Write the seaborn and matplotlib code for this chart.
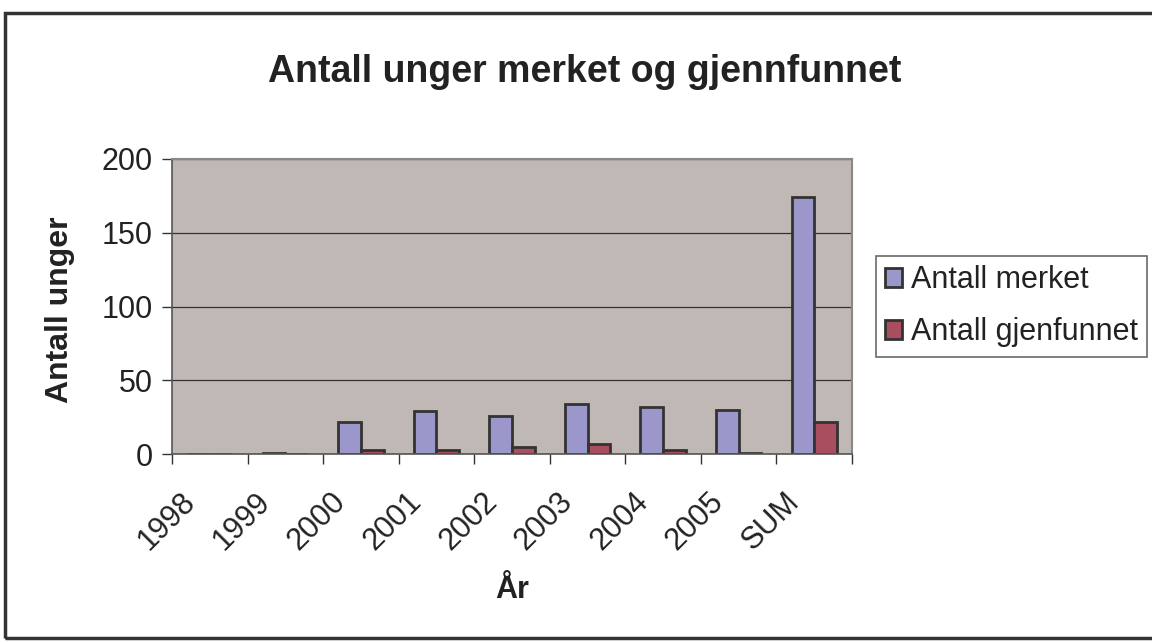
import pandas as pd
import numpy as np
import matplotlib
matplotlib.use('Agg')
import matplotlib.pyplot as plt
import matplotlib.transforms as mtrans
import seaborn as sns
from matplotlib.patches import Rectangle

years = ['1998', '1999', '2000', '2001', '2002', '2003', '2004', '2005', 'SUM']
merket = [0, 1, 22, 29, 26, 34, 32, 30, 174]
gjenfunnet = [0, 0, 3, 3, 5, 7, 3, 1, 22]

df = pd.DataFrame({'År': years * 2,
                   'verdi': merket + gjenfunnet,
                   'serie': ['Antall merket'] * len(years) + ['Antall gjenfunnet'] * len(years)})

sns.set_style('white')
plt.rcParams['font.family'] = ['Arial', 'Liberation Sans', 'DejaVu Sans']
txt = '#222222'

fig = plt.figure(figsize=(11.52, 6.42), dpi=100)
ax = fig.add_axes([172 / 1152, 1 - 454 / 642, 680 / 1152, 295 / 642])

sns.barplot(data=df, x='År', y='verdi', hue='serie', ax=ax,
            palette=['#9C97CB', '#A84E5E'], width=0.6, gap=0,
            edgecolor='#333333', linewidth=2, saturation=1)

ax.set_facecolor('#C0B8B4')
ax.set_ylim(0, 200)
ax.set_xlim(-0.5, len(years) - 0.5)
ax.set_yticks([0, 50, 100, 150, 200])
ax.yaxis.grid(True, color='#333333', linewidth=0.9)
ax.set_axisbelow(True)
for s in ['top', 'right']:
    ax.spines[s].set_color('#888888')
    ax.spines[s].set_linewidth(1.5)
for s in ['left', 'bottom']:
    ax.spines[s].set_color('#555555')
    ax.spines[s].set_linewidth(1.2)

ax.set_xticks(range(len(years)))
ax.set_xticklabels(years, rotation=45, ha='right', rotation_mode='anchor', fontsize=22, color=txt)
ax.tick_params(axis='x', which='major', length=0, pad=14)
shift = mtrans.ScaledTranslation(-0.30, -0.13, fig.dpi_scale_trans)
for lab in ax.get_xticklabels():
    lab.set_transform(lab.get_transform() + shift)
ax.set_xticks(np.arange(-0.5, len(years)), minor=True)
ax.tick_params(axis='x', which='minor', length=7, width=1, color='#333333', direction='out', bottom=True)
ax.tick_params(axis='y', length=7, width=1, color='#333333', direction='out', left=True,
               labelsize=22, labelcolor=txt, pad=7)

ax.set_xlabel('År', fontsize=22, fontweight='bold', color=txt)
ax.set_ylabel('Antall unger', fontsize=23, fontweight='bold', color=txt)
ax.xaxis.set_label_coords(0.5, -0.41)
ax.yaxis.set_label_coords(-0.142, 0.49)

fig.text(585 / 1152, 1 - 72 / 642, 'Antall unger merket og gjennfunnet',
         ha='center', va='center', fontsize=27, fontweight='bold', color=txt)

leg = ax.legend(loc='upper left', bbox_to_anchor=(876 / 1152, 1 - 256 / 642),
                bbox_transform=fig.transFigure, frameon=True, fancybox=False,
                fontsize=22, handlelength=0.55, handleheight=0.55, handletextpad=0.3,
                labelspacing=0.73, borderpad=0.3, borderaxespad=0)
leg.get_frame().set_edgecolor('#444444')
leg.get_frame().set_linewidth(1.2)
for t in leg.get_texts():
    t.set_color(txt)

fig.patches.append(Rectangle((5 / 1152, 4 / 642), 1.2, 1 - 16.5 / 642,
                             transform=fig.transFigure, fill=False,
                             edgecolor='#333333', linewidth=2.5))

fig.savefig('out.png', dpi=100)
